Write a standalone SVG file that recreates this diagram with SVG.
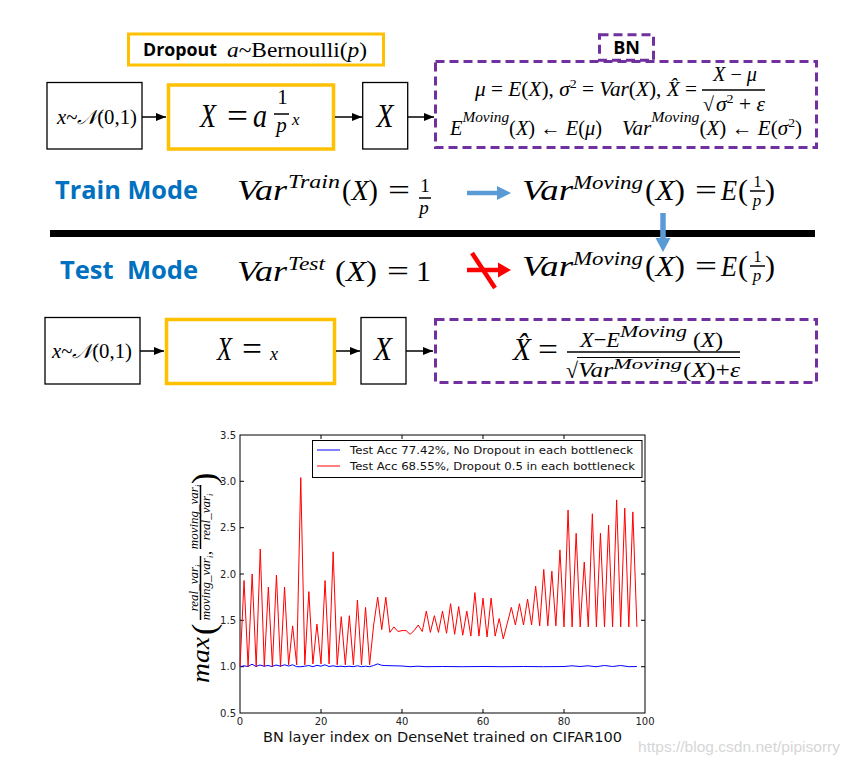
<svg xmlns="http://www.w3.org/2000/svg" width="851" height="761" viewBox="0 0 851 761">
<style>
.box{fill:#fff;stroke:#000;stroke-width:1.3}
.ybox{fill:#fff;stroke:#FFC000;stroke-width:3.5}
.pbox{fill:none;stroke:#7030A0;stroke-width:3;stroke-dasharray:9 5}
.m{font-family:"Liberation Serif","DejaVu Serif",serif;font-style:italic;fill:#000}
.u{font-style:normal}
.lbl{font-family:"Open Sans","Liberation Sans",sans-serif;font-weight:bold;fill:#000}
.mode{font-family:"Open Sans","Liberation Sans",sans-serif;font-weight:bold;fill:#0070C0;font-size:25px}
.tick{font-family:"DejaVu Sans",sans-serif;font-size:10px;fill:#222}
.conn{stroke:#000;stroke-width:1.5;fill:none}
.bar{stroke:#000;stroke-width:1.5}
.tk{stroke:#000;stroke-width:1}
</style>
<defs>
<marker id="ah" markerWidth="10" markerHeight="8" refX="10" refY="4" orient="auto" markerUnits="userSpaceOnUse"><path d="M0,0 L10,4 L0,8 z" fill="#000"/></marker>
</defs>

<!-- Top row -->
<g id="dropout-label">
<rect x="128.5" y="34" width="255" height="31" fill="#fff" stroke="#FFC000" stroke-width="3"/>
<text class="lbl" x="143" y="56" font-size="17" textLength="74" lengthAdjust="spacingAndGlyphs">Dropout</text>
<text class="m" x="227" y="57" font-size="20" textLength="140" lengthAdjust="spacingAndGlyphs">a<tspan class="u">~Bernoulli(</tspan>p<tspan class="u">)</tspan></text>
</g>
<g id="train-input">
<rect class="box" x="47" y="82.5" width="95" height="66.5"/>
<text class="m" x="57" y="124" font-size="20" textLength="80" lengthAdjust="spacingAndGlyphs">x<tspan class="u">~</tspan>𝒩<tspan class="u">(0,1)</tspan></text>
</g>
<g id="train-dropout">
<rect class="ybox" x="168.5" y="85" width="165" height="64"/>
<text class="m" x="200" y="127" font-size="33" textLength="16" lengthAdjust="spacingAndGlyphs">X</text>
<text class="m u" x="227" y="127" font-size="33" textLength="21" lengthAdjust="spacingAndGlyphs">=</text>
<text class="m" x="253" y="127" font-size="33" textLength="14" lengthAdjust="spacingAndGlyphs">a</text>
<text class="m u" x="282.5" y="104" font-size="21" text-anchor="middle">1</text>
<line class="bar" x1="274" y1="114" x2="289" y2="114"/>
<text class="m" x="281.5" y="132" font-size="21" text-anchor="middle">p</text>
<text class="m" x="292" y="125" font-size="17">x</text>
</g>
<g id="train-x">
<rect class="box" x="362.7" y="82.5" width="45" height="66.5"/>
<text class="m" x="385" y="127" font-size="33" text-anchor="middle" textLength="17" lengthAdjust="spacingAndGlyphs">X</text>
</g>
<g id="bn-label">
<rect x="599.5" y="34.8" width="54" height="25.5" fill="#fff" stroke="#7030A0" stroke-width="3" stroke-dasharray="9 5"/>
<text class="lbl" x="626.5" y="54" font-size="18" text-anchor="middle">BN</text>
</g>
<g id="bn-train">
<rect class="pbox" x="435.5" y="61.5" width="381" height="86"/>
<text class="m" x="475" y="96" font-size="20" textLength="222" lengthAdjust="spacingAndGlyphs">μ<tspan class="u"> = </tspan>E<tspan class="u">(</tspan>X<tspan class="u">), </tspan>σ<tspan class="u" font-size="13" dy="-8">2</tspan><tspan class="u" dy="8"> = </tspan>Var<tspan class="u">(</tspan>X<tspan class="u">), </tspan>X̂<tspan class="u"> =</tspan></text>
<text class="m" x="735" y="81" font-size="20" text-anchor="middle" textLength="44" lengthAdjust="spacingAndGlyphs">X<tspan class="u"> − </tspan>μ</text>
<line class="bar" x1="702" y1="90" x2="765" y2="90"/>
<text class="m u" x="703" y="111" font-size="20">√</text>
<text class="m" x="716" y="111" font-size="20" textLength="49" lengthAdjust="spacingAndGlyphs">σ<tspan class="u" font-size="13" dy="-8">2</tspan><tspan class="u" dy="8"> + </tspan>ε</text>
<text class="m" x="450" y="135" font-size="20" textLength="152" lengthAdjust="spacingAndGlyphs">E<tspan font-size="15" dy="-13">Moving</tspan><tspan class="u" dy="13">(</tspan>X<tspan class="u">) ← </tspan>E<tspan class="u">(</tspan>μ<tspan class="u">)</tspan></text>
<text class="m" x="622" y="135" font-size="20" textLength="180" lengthAdjust="spacingAndGlyphs">Var<tspan font-size="15" dy="-13">Moving</tspan><tspan class="u" dy="13">(</tspan>X<tspan class="u">) ← </tspan>E<tspan class="u">(</tspan>σ<tspan class="u" font-size="13" dy="-8">2</tspan><tspan class="u" dy="8">)</tspan></text>
</g>

<!-- Modes -->
<g id="train-mode">
<text class="mode" x="55" y="199" textLength="143" lengthAdjust="spacingAndGlyphs">Train Mode</text>
<text class="m" x="237" y="200" font-size="30" textLength="50" lengthAdjust="spacingAndGlyphs">Var</text>
<text class="m" x="288" y="188" font-size="19" textLength="52" lengthAdjust="spacingAndGlyphs">Train</text>
<text class="m" x="342" y="200" font-size="30" textLength="36" lengthAdjust="spacingAndGlyphs"><tspan class="u">(</tspan>X<tspan class="u">)</tspan></text>
<text class="m u" x="388" y="200" font-size="30" textLength="22" lengthAdjust="spacingAndGlyphs">=</text>
<text class="m u" x="425" y="192" font-size="19" text-anchor="middle">1</text>
<line class="bar" x1="419" y1="198" x2="431" y2="198"/>
<text class="m" x="424" y="213.5" font-size="19" text-anchor="middle">p</text>
</g>
<g id="train-moving">
<text class="m" x="522" y="200" font-size="30" textLength="51" lengthAdjust="spacingAndGlyphs">Var</text>
<text class="m" x="573" y="189" font-size="19" textLength="70" lengthAdjust="spacingAndGlyphs">Moving</text>
<text class="m" x="645" y="200" font-size="30" textLength="40" lengthAdjust="spacingAndGlyphs"><tspan class="u">(</tspan>X<tspan class="u">)</tspan></text>
<text class="m u" x="695" y="200" font-size="30" textLength="22" lengthAdjust="spacingAndGlyphs">=</text>
<text class="m" x="721" y="200" font-size="30" textLength="16" lengthAdjust="spacingAndGlyphs">E</text>
<text class="m u" x="738" y="200" font-size="30">(</text>
<text class="m u" x="757.5" y="186.5" font-size="16" text-anchor="middle">1</text>
<line class="bar" x1="750" y1="191" x2="765" y2="191"/>
<text class="m" x="757" y="206" font-size="17" text-anchor="middle">p</text>
<text class="m u" x="765" y="200" font-size="30">)</text>
</g>
<line id="divider" x1="50" y1="233.5" x2="815" y2="233.5" stroke="#000" stroke-width="7"/>
<g id="test-mode">
<text class="mode" x="60" y="279" textLength="138" lengthAdjust="spacingAndGlyphs" xml:space="preserve">Test  Mode</text>
<text class="m" x="237" y="281" font-size="30" textLength="50" lengthAdjust="spacingAndGlyphs">Var</text>
<text class="m" x="288" y="270" font-size="19" textLength="37" lengthAdjust="spacingAndGlyphs">Test</text>
<text class="m" x="335" y="281" font-size="30" textLength="42" lengthAdjust="spacingAndGlyphs"><tspan class="u">(</tspan>X<tspan class="u">)</tspan></text>
<text class="m u" x="387" y="281" font-size="30" textLength="22" lengthAdjust="spacingAndGlyphs">=</text>
<text class="m u" x="423.5" y="281" font-size="30" text-anchor="middle">1</text>
</g>
<g id="test-moving">
<text class="m" x="522" y="276" font-size="30" textLength="51" lengthAdjust="spacingAndGlyphs">Var</text>
<text class="m" x="573" y="265" font-size="19" textLength="70" lengthAdjust="spacingAndGlyphs">Moving</text>
<text class="m" x="645" y="276" font-size="30" textLength="40" lengthAdjust="spacingAndGlyphs"><tspan class="u">(</tspan>X<tspan class="u">)</tspan></text>
<text class="m u" x="695" y="276" font-size="30" textLength="22" lengthAdjust="spacingAndGlyphs">=</text>
<text class="m" x="721" y="276" font-size="30" textLength="16" lengthAdjust="spacingAndGlyphs">E</text>
<text class="m u" x="738" y="276" font-size="30">(</text>
<text class="m u" x="757.5" y="261.5" font-size="16" text-anchor="middle">1</text>
<line class="bar" x1="750" y1="266" x2="765" y2="266"/>
<text class="m" x="757" y="281" font-size="17" text-anchor="middle">p</text>
<text class="m u" x="765" y="276" font-size="30">)</text>
</g>

<!-- Bottom row -->
<g id="test-input">
<rect class="box" x="45" y="317.5" width="95" height="66.5"/>
<text class="m" x="52" y="358" font-size="20" textLength="80" lengthAdjust="spacingAndGlyphs">x<tspan class="u">~</tspan>𝒩<tspan class="u">(0,1)</tspan></text>
</g>
<g id="test-dropout">
<rect class="ybox" x="166.5" y="319.5" width="168" height="64"/>
<text class="m" x="217" y="360" font-size="33" textLength="15" lengthAdjust="spacingAndGlyphs">X</text>
<text class="m u" x="242" y="360" font-size="33" textLength="20" lengthAdjust="spacingAndGlyphs">=</text>
<text class="m" x="270" y="360" font-size="18">x</text>
</g>
<g id="test-x">
<rect class="box" x="361" y="317.5" width="45" height="66.5"/>
<text class="m" x="383" y="360" font-size="33" text-anchor="middle" textLength="18" lengthAdjust="spacingAndGlyphs">X</text>
</g>
<g id="bn-test">
<rect class="pbox" x="435.5" y="319.5" width="381" height="63"/>
<text class="m" x="513" y="360" font-size="31" textLength="18" lengthAdjust="spacingAndGlyphs">X̂</text>
<text class="m u" x="538" y="360" font-size="31" textLength="20" lengthAdjust="spacingAndGlyphs">=</text>
<text class="m" x="580" y="347" font-size="22" textLength="40" lengthAdjust="spacingAndGlyphs">X<tspan class="u">−</tspan>E</text>
<text class="m" x="620" y="337" font-size="16" textLength="67" lengthAdjust="spacingAndGlyphs">Moving</text>
<text class="m" x="693" y="347" font-size="22" textLength="30" lengthAdjust="spacingAndGlyphs"><tspan class="u">(</tspan>X<tspan class="u">)</tspan></text>
<line class="bar" x1="567" y1="352" x2="740" y2="352"/>
<line x1="577" y1="357.5" x2="740" y2="357.5" stroke="#000" stroke-width="1.2"/>
<text class="m u" x="566" y="378" font-size="22">√</text>
<text class="m" x="578" y="377" font-size="22" textLength="35" lengthAdjust="spacingAndGlyphs">Var</text>
<text class="m" x="613" y="368.5" font-size="15" textLength="69" lengthAdjust="spacingAndGlyphs">Moving</text>
<text class="m" x="683" y="377" font-size="22" textLength="57" lengthAdjust="spacingAndGlyphs"><tspan class="u">(</tspan>X<tspan class="u">)+</tspan>ε</text>
</g>

<!-- Connectors -->
<g id="connectors">
<line class="conn" x1="142" y1="117" x2="166" y2="117" marker-end="url(#ah)"/>
<line class="conn" x1="335" y1="117" x2="362" y2="117" marker-end="url(#ah)"/>
<line class="conn" x1="408" y1="117" x2="434" y2="117" marker-end="url(#ah)"/>
<line class="conn" x1="140" y1="351" x2="164" y2="351" marker-end="url(#ah)"/>
<line class="conn" x1="336" y1="351" x2="360" y2="351" marker-end="url(#ah)"/>
<line class="conn" x1="406" y1="351" x2="433" y2="351" marker-end="url(#ah)"/>
<line x1="467" y1="193" x2="499" y2="193" stroke="#5B9BD5" stroke-width="4.5"/>
<path d="M497,186 L511,193 L497,200 z" fill="#5B9BD5"/>
<line x1="663" y1="213" x2="663" y2="240" stroke="#5B9BD5" stroke-width="5.5"/>
<path d="M655.5,238 L670.5,238 L663,252 z" fill="#5B9BD5"/>
<line x1="467" y1="270" x2="500" y2="270" stroke="#FF0000" stroke-width="4.5"/>
<path d="M498,262.5 L511,270 L498,277.5 z" fill="#FF0000"/>
<line x1="472" y1="253" x2="495" y2="288" stroke="#FF0000" stroke-width="4.5"/>
</g>

<!-- Chart -->
<g id="chart">
<rect x="240" y="435" width="405" height="278" fill="#fff" stroke="#000" stroke-width="1"/>
<g class="tk">
<path d="M321,713 v-4 M402,713 v-4 M483,713 v-4 M564,713 v-4 M321,435 v4 M402,435 v4 M483,435 v4 M564,435 v4 M240,666.7 h4 M240,620.3 h4 M240,574 h4 M240,527.7 h4 M240,481.3 h4 M645,666.7 h-4 M645,620.3 h-4 M645,574 h-4 M645,527.7 h-4 M645,481.3 h-4"/>
</g>
<g class="tick" text-anchor="end">
<text x="236" y="716.5">0.5</text>
<text x="236" y="670.2">1.0</text>
<text x="236" y="623.8">1.5</text>
<text x="236" y="577.5">2.0</text>
<text x="236" y="531.2">2.5</text>
<text x="236" y="484.8">3.0</text>
<text x="236" y="438.5">3.5</text>
</g>
<g class="tick" text-anchor="middle">
<text x="240" y="725">0</text>
<text x="321" y="725">20</text>
<text x="402" y="725">40</text>
<text x="483" y="725">60</text>
<text x="564" y="725">80</text>
<text x="645" y="725">100</text>
</g>
<polyline fill="none" stroke="#0000FF" stroke-width="1" points="240,666.7 244,665.8 248,666.5 252,664.2 256,666.5 260,665 264,666.2 268,665.5 272,666.5 276,665 280.5,666.2 284.5,664.8 288.6,666 292.6,664.8 296.7,666.7 300.7,666.7 304.8,666.2 308.8,665.5 312.9,666.7 317,665.3 321,666.2 325,664.8 329,666.5 333,665.8 337,666.5 341,666.2 345,666.7 349,666.2 353,666.7 357.5,665.8 361.5,666.7 365.5,666.2 369.6,666.7 373.6,665.5 377.7,663.9 381.7,665.3 385.8,665.6 394,665.8 402,666 410,666.7 418,666.2 426,666.7 442.5,666.5 462.7,666.7 483,666.5 503,666.7 523.5,666.5 543.7,666.7 564,666.5 572,665.8 580,666.5 588,665.8 596,666.7 604.5,665.5 612.6,666.5 620.7,665.5 628.8,666.7 636.9,666.5"/>
<polyline fill="none" stroke="#FF0000" stroke-width="1" points="240,666.7 244.05,580.5 248.1,666.7 252.15,574 256.2,666.7 260.25,549 264.3,666.7 268.35,587 272.4,666.7 276.45,575 280.5,666.7 284.55,587 288.6,664.8 292.65,625.9 296.7,664.8 300.75,477.6 304.8,664.8 308.85,591.6 312.9,663.9 316.95,624.1 321,663.9 325.05,580.5 329.1,663.9 333.15,551.8 337.2,664.8 341.25,616.7 345.3,664.8 349.35,615.7 353.4,664.8 357.45,600 361.5,664.8 365.55,607.4 369.6,664.8 373.65,625 377.7,597.2 381.75,629.6 385.8,597.2 389.85,632.4 393.9,626.9 397.95,631.5 402,630.6 406.05,630.6 410.1,634.3 414.15,630.6 418.2,625 422.25,631.5 426.3,611.1 430.35,632.4 434.4,615.7 438.45,632.4 442.5,611.1 446.55,633.3 450.6,603.7 454.65,634.3 458.7,606.5 462.75,635.2 466.8,611.1 470.85,636.1 474.9,592.6 478.95,636.1 483,598.1 487.05,637 491.1,598.1 495.15,636.1 499.2,618.5 503.25,638.9 507.3,623.1 511.35,607.4 515.4,625 519.45,603.7 523.5,625 527.55,599.1 531.6,625 535.65,586.1 539.7,625.9 543.75,569.4 547.8,625.9 551.85,571.2 555.9,625.9 559.95,549.9 564,626.9 568.05,510.1 572.1,626.9 576.15,533.3 580.2,626.9 584.25,562 588.3,626.9 592.35,513.8 596.4,626.9 600.45,533.3 604.5,626.9 608.55,525 612.6,626.9 616.65,499.9 620.7,626.9 624.75,508.2 628.8,626.9 632.85,511.9 636.9,626.9"/>
<g id="legend">
<rect x="312.5" y="440.5" width="329.5" height="37" fill="#fff" stroke="#000" stroke-width="1"/>
<line x1="317" y1="450" x2="340" y2="450" stroke="#0000FF" stroke-width="1"/>
<line x1="317" y1="466" x2="340" y2="466" stroke="#FF0000" stroke-width="1"/>
<text x="350" y="454" font-family="DejaVu Sans, sans-serif" font-size="11" fill="#111" textLength="283" lengthAdjust="spacingAndGlyphs">Test Acc 77.42%, No Dropout in each bottleneck</text>
<text x="350" y="470" font-family="DejaVu Sans, sans-serif" font-size="11" fill="#111" textLength="285" lengthAdjust="spacingAndGlyphs">Test Acc 68.55%, Dropout 0.5 in each bottleneck</text>
</g>
<text x="263" y="742" font-family="DejaVu Sans, sans-serif" font-size="14" fill="#111" textLength="359" lengthAdjust="spacingAndGlyphs">BN layer index on DenseNet trained on CIFAR100</text>
<g id="ylabel" transform="translate(209,683) rotate(-90)">
<text class="m" x="0" y="0" font-size="25" textLength="46" lengthAdjust="spacingAndGlyphs">max</text>
<text class="m u" x="48" y="6" font-size="34">(</text>
<text class="m" x="95" y="-11" font-size="13" text-anchor="middle">real_var<tspan font-size="8" dy="3">i</tspan></text>
<line x1="63" y1="-8.5" x2="127" y2="-8.5" stroke="#000" stroke-width="1.5"/>
<text class="m" x="95" y="0.5" font-size="13" text-anchor="middle">moving_var<tspan font-size="8" dy="3">i</tspan></text>
<text class="m u" x="128" y="2" font-size="16">,</text>
<text class="m" x="166" y="-11" font-size="13" text-anchor="middle">moving_var<tspan font-size="8" dy="3">i</tspan></text>
<line x1="134" y1="-8.5" x2="198" y2="-8.5" stroke="#000" stroke-width="1.5"/>
<text class="m" x="166" y="0.5" font-size="13" text-anchor="middle">real_var<tspan font-size="8" dy="3">i</tspan></text>
<text class="m u" x="199" y="6" font-size="34">)</text>
</g>
</g>
<text x="638" y="752" font-family="Liberation Sans, Arial, sans-serif" font-size="15" fill="#d6d6d6" textLength="202" lengthAdjust="spacingAndGlyphs">https://blog.csdn.net/pipisorry</text>
</svg>
